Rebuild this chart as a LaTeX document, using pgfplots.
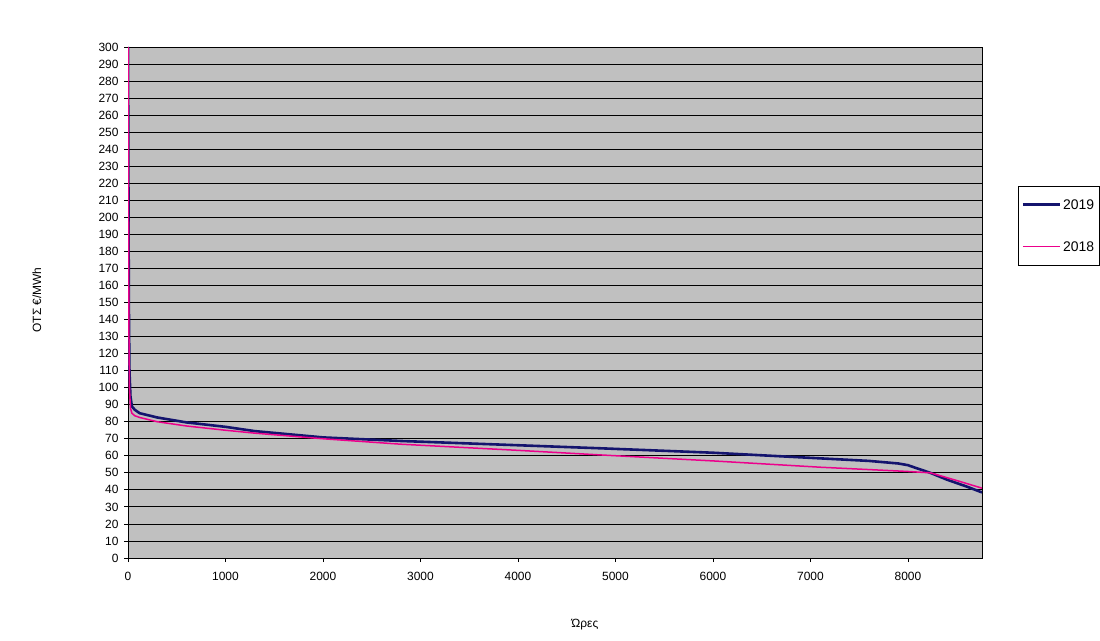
\documentclass[border=0pt]{standalone}
\usepackage{pgfplots}
\pgfplotsset{compat=1.18}
\usepackage{fontspec}
\setmainfont{Liberation Sans}
\definecolor{navyline}{HTML}{14146E}
\definecolor{plotgray}{HTML}{C0C0C0}
\begin{document}
\begin{tikzpicture}
\path[use as bounding box] (0,0) rectangle (1100bp,641bp);
\begin{axis}[
  at={(128bp,83bp)}, anchor=south west,
  scale only axis, width=854bp, height=511bp,
  xmin=0, xmax=8760, ymin=0, ymax=300,
  xtick={0,1000,...,8000},
  ytick={0,10,...,300},
  ymajorgrids, grid style={black, line width=0.8bp},
  axis background/.style={fill=plotgray},
  axis line style={black, line width=0.8bp},
  tick align=outside, xtick pos=bottom, ytick pos=left,
  major tick length=4bp,
  tick style={black, line width=0.8bp},
  /pgf/number format/assume math mode=true,
  /pgf/number format/1000 sep={},
  ticklabel style={font=\fontsize{12}{13}\selectfont},
  xticklabel style={yshift=-7bp},
  yticklabel style={xshift=-2bp},
  xlabel={Ώρες}, ylabel={ΟΤΣ €/MWh},
  label style={font=\fontsize{12}{13}\selectfont},
  xlabel style={at={(axis description cs:0.535,-0.131)}, anchor=center},
  ylabel style={at={(axis description cs:-0.1066,0.505)}, anchor=center},
  legend style={at={(axis description cs:1.0422,0.728)}, anchor=north west,
    draw=black, line width=0.8bp, fill=white, font=\fontsize{14}{15}\selectfont,
    inner xsep=3bp, inner ysep=11bp, row sep=27bp},
  legend cell align=left,
  legend image code/.code={\draw[#1] (0bp,0.5bp) -- (37bp,0.5bp);},
]
\addplot[navyline, line width=2.6bp] coordinates {
(0,300) (3,250) (6,190) (10,140) (15,110) (25,95) (40,89) (70,87) (120,85)
(300,82.5) (600,79.6) (1000,77) (1300,74.5) (2000,70.8) (2800,68.7)
(4000,66.2) (4850,64.4) (6000,61.8) (7100,58.5) (7600,57) (7900,55.5)
(8000,54.5) (8100,52.5) (8230,50) (8400,46) (8600,42) (8760,38.5)
};
\addlegendentry{2019}
\addplot[magenta, line width=1.5bp] coordinates {
(0,300) (3,240) (6,180) (10,130) (15,100) (25,88) (40,85) (70,83.5) (120,82.5)
(300,80) (600,77.5) (1000,75) (1300,73.3) (2000,70) (2800,66.8) (3500,64.7)
(4000,63.2) (4850,60.5) (6000,57) (7100,53.3) (8000,50.8) (8230,50)
(8500,45.5) (8760,41)
};
\addlegendentry{2018}
\end{axis}
\end{tikzpicture}
\end{document}
